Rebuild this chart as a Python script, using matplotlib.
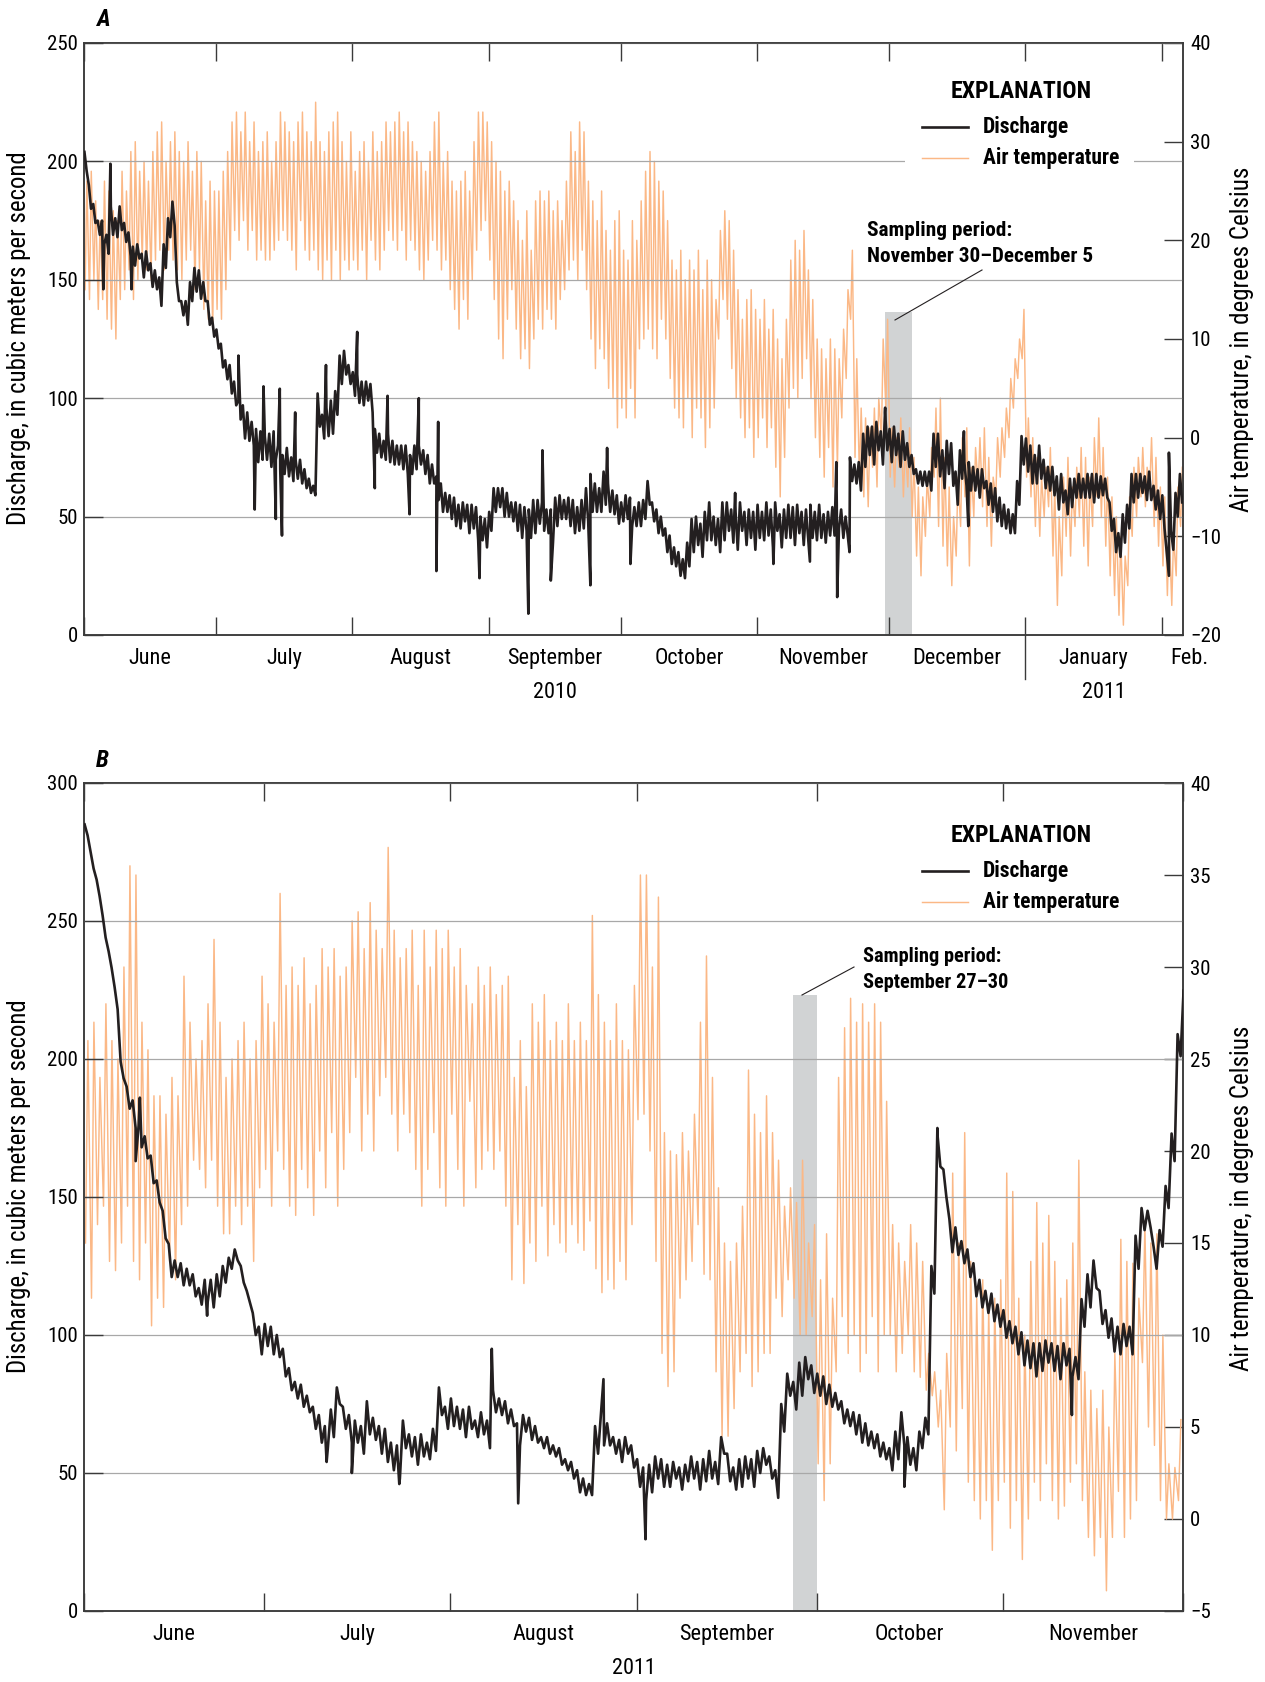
import numpy as np
import matplotlib.pyplot as plt
import matplotlib.dates as mdates
from matplotlib import font_manager as fm
from matplotlib.lines import Line2D
from matplotlib.patches import Rectangle

# narrow sans if we have one, otherwise Liberation Sans a bit smaller
_have = {f.name for f in fm.fontManager.ttflist}
FS = 1.0
if 'Liberation Sans Narrow' in _have:
    FAM = 'Liberation Sans Narrow'
elif 'Roboto Condensed' in _have:
    FAM = 'Roboto Condensed'
else:
    FAM = 'Liberation Sans'
    FS = 0.9
plt.rcParams['font.family'] = [FAM, 'DejaVu Sans']

# ---------------- data: panel A (June 1 2010 - Feb 5 2011) ----------------
# discharge, daily level (m3/s), day 0 = June 1 2010
a_q = [
    200, 185, 178, 172, 170, 165, 175, 172, 176, 170,
    165, 160, 162, 156, 158, 152, 150, 145, 160, 172,
    178, 145, 138, 136, 145, 150, 148, 145, 136, 130,
    125, 118, 112, 108, 102, 95, 90, 88, 85, 80,
    80, 79, 78, 80, 75, 72, 73, 70, 70, 69,
    66, 63, 61, 95, 88, 90, 92, 98, 112, 115,
    110, 106, 104, 102, 103, 100, 82, 80, 78, 79,
    77, 76, 75, 74, 72, 75, 76, 73, 70, 68,
    62, 58, 56, 54, 52, 50, 52, 49, 50, 47,
    45, 43, 48, 57, 58, 56, 55, 52, 50, 48,
    49, 47, 50, 52, 50, 48, 46, 52, 54, 53,
    52, 50, 49, 51, 55, 60, 58, 57, 62, 58,
    56, 53, 52, 54, 52, 50, 51, 53, 60, 52,
    48, 46, 40, 36, 33, 30, 28, 34, 42, 44,
    40, 46, 48, 44, 42, 48, 50, 46, 44, 50,
    45, 47, 44, 48, 46, 49, 45, 50, 44, 47,
    48, 46, 49, 45, 47, 48, 46, 48, 45, 47,
    48, 50, 47, 46, 70, 68, 67, 78, 82, 80,
    84, 79, 86, 80, 82, 78, 80, 76, 72, 67,
    66, 66, 65, 78, 76, 70, 75, 72, 62, 72,
    68, 67, 66, 64, 66, 60, 58, 55, 52, 50,
    48, 47, 60, 78, 76, 72, 70, 73, 68, 66,
    65, 60, 62, 56, 60, 62, 63, 62, 63, 62,
    63, 63, 62, 50, 42, 38, 45, 50, 62, 63,
    64, 62, 63, 58, 55, 52, 30, 40, 55, 62,
]
# width of the within-day discharge fluctuation (m3/s)
a_swing = [
    8, 10, 8, 6, 10, 8, 12, 8, 10, 8,
    10, 8, 6, 10, 8, 10, 8, 12, 10, 8,
    10, 8, 6, 10, 8, 10, 12, 8, 10, 8,
    8, 10, 8, 12, 10, 8, 14, 12, 10, 14,
    12, 10, 14, 12, 10, 8, 12, 10, 8, 10,
    8, 6, 4, 14, 10, 12, 14, 10, 12, 10,
    8, 10, 12, 10, 8, 12, 10, 10, 8, 12,
    10, 8, 10, 12, 8, 10, 8, 10, 12, 8,
    10, 12, 8, 10, 12, 10, 8, 12, 10, 14,
    10, 12, 8, 10, 8, 12, 10, 8, 12, 14,
    10, 12, 14, 10, 12, 10, 14, 12, 10, 8,
    12, 14, 10, 12, 14, 16, 12, 10, 14, 12,
    10, 12, 8, 10, 12, 8, 10, 8, 10, 8,
    10, 8, 10, 12, 8, 10, 8, 10, 14, 12,
    14, 12, 16, 12, 14, 16, 12, 14, 16, 12,
    14, 12, 16, 14, 12, 14, 16, 12, 14, 12,
    14, 16, 12, 14, 12, 14, 12, 14, 12, 10,
    12, 10, 12, 8, 10, 8, 12, 14, 12, 16,
    12, 14, 16, 14, 12, 14, 12, 10, 8, 6,
    6, 6, 8, 14, 18, 16, 14, 18, 14, 12,
    10, 12, 10, 12, 8, 10, 12, 14, 12, 10,
    10, 8, 10, 12, 14, 16, 12, 14, 12, 10,
    12, 14, 12, 10, 12, 8, 10, 8, 10, 12,
    10, 8, 8, 12, 14, 10, 12, 10, 12, 10,
    8, 10, 12, 10, 12, 14, 10, 8, 10, 12,
]
# short single readings (spikes): day, discharge
a_spike_day = [4.4, 6.0, 10.8, 17.6, 35.1, 38.8, 40.8, 43.6, 44.5, 45.0, 48.0,
               55.0, 62.1, 66.1, 69.0, 74.0, 76.1, 80.1, 80.5, 89.9, 101.0,
               104.2, 106.1, 115.1, 118.9, 124.2, 148.0, 156.7, 165.0, 171.0,
               171.2, 174.0, 182.1, 200.0, 201.0, 246.6]
a_spike_val = [146, 199, 146, 139, 118, 53, 105, 49, 104, 42, 94,
               114, 128, 62, 101, 51, 100, 27, 90, 24, 9,
               78, 23, 21, 79, 30, 60, 30, 31, 73,
               16, 35, 96, 86, 46, 77]
# daily air temperature max / min (deg C)
a_tmax = [
    26, 27, 24, 22, 26, 25, 23, 22, 27, 25,
    29, 30, 27, 28, 26, 29, 31, 32, 28, 30,
    31, 29, 28, 30, 27, 29, 28, 24, 26, 25,
    25, 27, 29, 32, 33, 31, 33, 30, 32, 29,
    30, 31, 28, 30, 33, 32, 31, 30, 32, 33,
    31, 30, 34, 30, 29, 31, 32, 33, 30, 28,
    31, 27, 29, 30, 28, 31, 29, 30, 32, 31,
    32, 33, 31, 32, 30, 29, 28, 27, 29, 32,
    33, 28, 29, 26, 25, 26, 27, 25, 30, 33,
    33, 32, 30, 28, 27, 25, 26, 24, 22, 20,
    23, 19, 24, 25, 24, 25, 23, 24, 22, 26,
    31, 29, 32, 31, 26, 24, 22, 25, 21, 19,
    22, 23, 19, 18, 22, 20, 24, 27, 29, 28,
    26, 25, 22, 18, 17, 19, 16, 18, 17, 19,
    15, 18, 16, 14, 21, 23, 22, 19, 15, 12,
    14, 15, 13, 12, 14, 11, 13, 10, 8, 12,
    18, 20, 19, 21, 17, 14, 10, 9, 8, 10,
    9, 8, 11, 15, 19, 8, 3, 2, 1, 3,
    4, 10, 12, 1, 0, 2, -1, 1, -2, -5,
    -6, -4, -1, 3, 4, -2, -5, -8, -4, 0,
    1, -3, -1, 0, 1, -2, -4, 0, 1, 3,
    6, 8, 10, 13, 2, 0, -2, -4, -3, -1,
    -5, -8, -4, -2, -5, -3, -1, -2, -4, 0,
    2, -1, -4, -6, -8, -10, -12, -6, -3, -2,
    -1, -3, 0, -2, -5, -6, -9, -10, -5, -3,
]
a_tmin = [
    15, 14, 16, 13, 14, 12, 11, 10, 14, 15,
    17, 14, 16, 18, 17, 16, 18, 19, 17, 19,
    18, 17, 16, 18, 19, 15, 17, 13, 12, 11,
    13, 12, 15, 18, 21, 20, 22, 19, 21, 18,
    19, 18, 18, 19, 20, 21, 20, 19, 17, 22,
    19, 18, 19, 17, 16, 18, 16, 19, 16, 18,
    17, 18, 17, 19, 16, 20, 18, 17, 19, 21,
    20, 19, 21, 18, 20, 19, 17, 16, 18, 20,
    19, 17, 18, 15, 13, 11, 14, 12, 16, 19,
    21, 22, 18, 14, 10, 8, 12, 15, 11, 8,
    9, 7, 10, 12, 11, 13, 12, 11, 14, 15,
    17, 18, 16, 19, 15, 10, 7, 9, 8, 5,
    4, 1, 3, 2, 5, 2, 9, 10, 11, 9,
    8, 12, 10, 6, 3, 2, 1, 4, 0, 3,
    2, -1, 1, 3, 10, 14, 12, 7, 4, 2,
    0, 1, -2, 0, 2, -1, 1, -3, -6, -2,
    3, 5, 4, 6, 8, 4, 0, -2, -4, -1,
    -5, -3, 2, 6, 12, -2, -4, -6, -7, -3,
    -5, 0, 3, -4, -5, -3, -6, -5, -8, -12,
    -14, -10, -8, -4, -9, -11, -13, -15, -12, -9,
    -6, -13, -8, -5, -7, -9, -11, -6, -4, -2,
    0, 3, 6, 8, -4, -6, -9, -10, -8, -7,
    -12, -17, -14, -10, -12, -9, -8, -11, -13, -9,
    -6, -8, -11, -14, -16, -18, -19, -15, -10, -8,
    -6, -7, -5, -9, -11, -13, -16, -17, -14, -9,
]
a_months = ['June', 'July', 'August', 'September', 'October', 'November',
            'December', 'January', 'Feb.']
a_years = ['2010', '2011']

# ---------------- data: panel B (June 1 2011 - Dec 1 2011) ----------------
b_q = [
    283, 272, 262, 248, 236, 222, 196, 186, 180, 172,
    168, 160, 152, 140, 127, 124, 122, 121, 118, 114,
    116, 115, 118, 122, 126, 129, 122, 114, 104, 98,
    100, 98, 96, 90, 84, 80, 78, 75, 70, 66,
    63, 68, 78, 70, 66, 65, 62, 70, 66, 62,
    60, 56, 54, 64, 60, 58, 60, 58, 62, 76,
    70, 72, 70, 68, 70, 66, 68, 64, 76, 74,
    72, 70, 64, 68, 66, 64, 61, 60, 58, 56,
    53, 51, 47, 45, 44, 62, 66, 64, 60, 58,
    60, 56, 50, 46, 48, 52, 50, 49, 51, 48,
    50, 52, 49, 51, 53, 50, 60, 52, 48, 50,
    52, 50, 54, 56, 52, 46, 70, 82, 78, 84,
    88, 84, 82, 80, 78, 76, 72, 70, 68, 66,
    64, 62, 60, 58, 55, 60, 66, 58, 55, 62,
    67, 120, 168, 155, 136, 134, 130, 126, 120, 115,
    112, 110, 107, 104, 101, 98, 95, 93, 91, 92,
    94, 92, 90, 93, 90, 88, 108, 116, 122, 110,
    104, 100, 98, 100, 98, 130, 142, 142, 128, 135,
    150, 168, 205, 222,
]
b_swing = [
    4, 6, 6, 8, 6, 8, 6, 8, 10, 8,
    8, 10, 8, 10, 12, 6, 8, 6, 8, 6,
    8, 10, 8, 6, 4, 4, 6, 4, 8, 10,
    8, 10, 8, 10, 8, 6, 8, 6, 8, 10,
    8, 10, 6, 8, 10, 8, 10, 12, 8, 10,
    12, 10, 12, 10, 8, 10, 8, 6, 8, 10,
    8, 10, 8, 10, 8, 6, 8, 10, 8, 6,
    8, 6, 8, 6, 8, 6, 4, 6, 4, 6,
    4, 6, 8, 6, 4, 10, 12, 8, 6, 8,
    6, 8, 10, 12, 10, 8, 10, 8, 6, 8,
    6, 8, 10, 8, 10, 8, 6, 10, 8, 10,
    8, 10, 8, 6, 8, 10, 10, 8, 10, 12,
    8, 10, 8, 10, 8, 6, 8, 6, 8, 10,
    8, 6, 8, 6, 8, 10, 12, 10, 8, 6,
    6, 10, 14, 10, 12, 10, 8, 10, 12, 10,
    8, 10, 8, 10, 8, 10, 12, 10, 12, 10,
    8, 10, 12, 8, 10, 8, 10, 12, 10, 12,
    10, 12, 10, 8, 10, 12, 8, 6, 8, 6,
    8, 10, 8, 6,
]
b_spike_day = [8.6, 9.3, 20.5, 40.4, 44.6, 52.5, 67.9, 72.3, 86.5, 93.5,
               136.6, 142.1, 164.5]
b_spike_val = [163, 186, 107, 54, 50, 46, 95, 39, 84, 26,
               45, 173, 71]
b_tmax = [
    26, 27, 24, 28, 26, 25, 30, 35.5, 35, 27,
    25.5, 23, 23, 22, 24, 23, 29.5, 27, 25, 26,
    28, 31.5, 27, 24, 25, 26, 27, 25, 26, 29.5,
    28, 27, 34, 29, 30, 29, 30.5, 28, 29, 31,
    30, 31, 29.5, 30, 32.5, 33, 31, 33.5, 32, 31,
    36.5, 32, 30.5, 31, 32, 29, 32, 30, 32, 31,
    32, 30, 31, 29, 28, 30, 29, 30, 28.5, 29,
    29.5, 24, 26, 23.5, 28, 27, 28.5, 26, 27, 26,
    28, 26, 27, 26, 32.8, 28.5, 27, 26, 28, 26,
    25.5, 29, 35, 35, 30, 33.8, 21, 20, 19.8, 21,
    20, 22, 27, 30.6, 24, 18, 15, 14, 15, 17,
    24.4, 22, 21, 23, 21, 19.5, 17, 18, 17.2, 19.5,
    15, 16, 13, 15.5, 12, 24, 26.7, 28.3, 27, 28,
    27, 28, 27, 22.7, 16, 15, 14, 16, 15, 14,
    9, 8, 7, 9, 18.8, 15, 21, 14, 12, 13,
    11.5, 12, 13, 18.8, 17.8, 12, 10, 14, 17.2, 15,
    16.5, 14, 12, 13, 15, 19.5, 8, 7, 6, 7,
    5, 9, 15.2, 14, 13.9, 12, 16, 15, 15.5, 10,
    3, 2.8, 5.4,
]
b_tmin = [
    15, 12, 16, 17, 14, 13.5, 15, 17, 14, 13,
    15, 10.5, 12, 11.5, 14, 13, 16, 17, 19.5, 19,
    18, 19.5, 17, 15.5, 15.5, 17, 16, 17, 14, 18,
    19, 17, 20, 19, 17, 16.5, 19, 18, 16.5, 20,
    18, 21, 17, 19, 21, 24, 20, 22, 20, 23,
    24, 22, 20, 22, 21, 19, 17, 19, 21, 18,
    17, 22, 19, 17, 22.7, 18, 19, 20, 19, 20,
    17, 13, 16, 12.8, 15, 14, 17, 14.3, 16, 15,
    14.5, 16, 15, 14.6, 16.2, 13.6, 12.3, 13, 12.5, 14,
    13, 16, 21.7, 22, 20, 14, 9, 7.2, 8, 12,
    13, 14, 16, 13.3, 13, 8, 4.5, 4.5, 6, 8,
    9, 7.2, 8, 9, 9, 12, 11, 13, 12, 10,
    10, 11, 3, 1, 3, 8, 11, 9, 10, 8,
    9, 11, 8, 10, 10, 8, 9, 10, 8, 7.7,
    7, 6.7, 5, 0.5, 5, 3.7, 6, 2, 1, 0,
    1, -1.7, 1, 2, -0.5, 1, -2.2, 0, 2, 1,
    3, 1, 0, 0.7, 2, 3, 1, -1, -2, -1,
    -3.9, -1, 1.5, -1, 0, 1, 8.5, 5, 4, 1,
    0, 0, 1,
]
b_months = ['June', 'July', 'August', 'September', 'October', 'November']
b_years = ['2011']

# ---------------- styling ----------------
DIS_C = '#231f20'
TMP_C = '#fbb886'
GRID_C = '#a8a8a8'
SHADE_C = '#d1d3d4'
AX_C = '#3a3a3a'

W, H = 1265, 1682
fig = plt.figure(figsize=(W / 100, H / 100), dpi=100)
renderer = fig.canvas.get_renderer()


def fx(x):
    return x / W


def fy(y):
    return 1 - y / H


def fit(texts, target_px, vertical=False):
    # scale font size so the longest text spans target_px pixels
    ext = [t.get_window_extent(renderer) for t in texts]
    size = max(e.height if vertical else e.width for e in ext)
    for t in texts:
        t.set_fontsize(t.get_fontsize() * target_px / size)


def panel(box, start, ndays, q, swing, sp_day, sp_val, tmax, tmin, qmax, tlim,
          tstep, shade, shade_top, months, years, lab_y, year_y, sep_len):
    left, top, right, bottom = box
    ax = fig.add_axes([fx(left), fy(bottom), (right - left) / W, (bottom - top) / H])
    ax2 = ax.twinx()
    ax.set_zorder(ax2.get_zorder() + 1)
    ax.patch.set_visible(False)

    t0 = mdates.date2num(np.datetime64(start))
    t1 = t0 + ndays

    # discharge: daily level with its within-day swing, plus the short spikes
    d = np.arange(len(q), dtype=float)
    q = np.asarray(q, float)
    s = np.asarray(swing, float) / 2
    qd = np.concatenate([d + 0.1, d + 0.6, sp_day])
    qv = np.concatenate([q + s, q - s, sp_val])
    order = np.argsort(qd)
    ax.plot(t0 + qd[order], qv[order], color=DIS_C, lw=1.9, zorder=3)

    # temperature: morning min, afternoon max
    d = np.arange(len(tmax), dtype=float)
    tt = np.column_stack([d + 0.25, d + 0.65]).ravel()
    tv = np.column_stack([tmin, tmax]).ravel()
    ax2.plot(t0 + tt, tv, color=TMP_C, lw=1.05, zorder=2)
    ax2.axvspan(t0 + shade[0], t0 + shade[1], ymin=0, ymax=shade_top / qmax,
                color=SHADE_C, lw=0, zorder=1)

    ax.set_xlim(t0, t1)
    ax.set_ylim(0, qmax)
    ax2.set_ylim(*tlim)
    ax.set_yticks(np.arange(0, qmax + 1, 50))
    ax2.set_yticks(np.arange(tlim[0], tlim[1] + 1, tstep))
    ax.grid(axis='y', color=GRID_C, lw=0.9, zorder=0)

    ax.xaxis.set_major_locator(mdates.MonthLocator())
    ax.tick_params(axis='x', which='major', direction='in', length=12.7, width=1.0,
                   top=True, bottom=True, labelbottom=False, color=AX_C)
    ax.tick_params(axis='y', direction='in', length=13.7, width=1.0, left=True,
                   right=False, labelsize=15 * FS, pad=4.5, color=AX_C)
    ax2.tick_params(axis='y', direction='in', length=14, width=1.0, right=True,
                    left=False, labelsize=15 * FS, pad=5, color=AX_C)
    for a in (ax, ax2):
        for sp in a.spines.values():
            sp.set_color(AX_C)
            sp.set_linewidth(1.1)

    # month names centred in each month (partial last month: just after its start)
    mstart = np.arange(np.datetime64(start, 'M'),
                       np.datetime64(mdates.num2date(t1).strftime('%Y-%m'), 'M') + 1)
    edges = [mdates.date2num(m.astype('datetime64[D]')) for m in mstart]
    edges = [max(e, t0) for e in edges] + [t1]
    xt = ax.get_xaxis_transform()
    for i, name in enumerate(months):
        a, b = edges[i], min(edges[i + 1], t1)
        if b - a < 10:
            ax.text(a + 1.8, lab_y, name, transform=xt, ha='left', va='center',
                    fontsize=16 * FS)
        else:
            ax.text((a + b) / 2, lab_y, name, transform=xt, ha='center',
                    va='center', fontsize=16 * FS)

    # year names centred over the part of each year shown
    for yname in years:
        ya = max(mdates.date2num(np.datetime64(yname + '-01-01')), t0)
        yb = min(mdates.date2num(np.datetime64(str(int(yname) + 1) + '-01-01')), t1)
        ax.text((ya + yb) / 2, year_y, yname, transform=xt, ha='center',
                va='center', fontsize=16 * FS)
        if ya > t0:
            ax.plot([ya, ya], [0, -sep_len], transform=xt, clip_on=False,
                    color=AX_C, lw=1.0)
    return ax, ax2


panel((84, 43, 1183, 635), '2010-06-01', 249.8, a_q, a_swing, a_spike_day,
      a_spike_val, a_tmax, a_tmin, 250, (-20, 40), 10, (182, 188.1), 136.4,
      a_months, a_years, -0.039, -0.097, 0.075)
panel((84, 783, 1183, 1611), '2011-06-01', 183, b_q, b_swing, b_spike_day,
      b_spike_val, b_tmax, b_tmin, 300, (-5, 40), 5, (118, 122), 223.3,
      b_months, b_years, -0.028, -0.069, 0.05)

# axis titles
for yl, yr in ((338, 339.5), (1186, 1198)):
    tl = fig.text(fx(19), fy(yl), 'Discharge, in cubic meters per second',
                  rotation=90, ha='center', va='center', fontsize=18)
    tr = fig.text(fx(1242), fy(yr), 'Air temperature, in degrees Celsius',
                  rotation=90, ha='center', va='center', fontsize=18)
    fit([tl], 373, vertical=True)
    fit([tr], 345, vertical=True)

# panel letters
fig.text(fx(96), fy(19), 'A', fontsize=17 * FS, fontweight='bold', style='italic',
         va='center', ha='left')
fig.text(fx(96), fy(761), 'B', fontsize=17 * FS, fontweight='bold', style='italic',
         va='center', ha='left')


def explanation(y_title, y1, y2, box=False):
    if box:
        fig.add_artist(Rectangle((fx(905), fy(176)), (1134 - 905) / W, (176 - 72) / H,
                                 transform=fig.transFigure, facecolor='white',
                                 edgecolor='none', zorder=5))
    t = fig.text(fx(1021), fy(y_title), 'EXPLANATION', ha='center', va='center',
                 fontsize=17.5, fontweight='bold', zorder=7)
    fit([t], 141)
    labs = []
    for y, c, lw, lab in ((y1, DIS_C, 1.9, 'Discharge'),
                          (y2, TMP_C, 1.05, 'Air temperature')):
        fig.add_artist(Line2D([fx(922), fx(968)], [fy(y), fy(y)], color=c, lw=lw,
                              transform=fig.transFigure, zorder=6))
        labs.append(fig.text(fx(983), fy(y), lab, ha='left', va='center',
                             fontsize=16, fontweight='bold', zorder=7))
    fit(labs, 136)


def sampling(x, y1, y2, text2, width, p0, p1):
    t1 = fig.text(fx(x), fy(y1), 'Sampling period:', ha='left', va='center',
                  fontsize=16, fontweight='bold', zorder=7)
    t2 = fig.text(fx(x), fy(y2), text2, ha='left', va='center', fontsize=16,
                  fontweight='bold', zorder=7)
    fit([t1, t2], width)
    fig.add_artist(Line2D([fx(p0[0]), fx(p1[0])], [fy(p0[1]), fy(p1[1])],
                          color='#231f20', lw=0.8, transform=fig.transFigure,
                          zorder=6))


explanation(92, 127, 158, box=True)
explanation(835, 871, 902)
sampling(867, 231, 256.5, 'November 30\u2013December 5', 226, (895, 320), (982, 270))
sampling(863, 956, 983, 'September 27\u201330', 146, (802, 995), (854, 967))

fig.savefig('out.png', dpi=100)
